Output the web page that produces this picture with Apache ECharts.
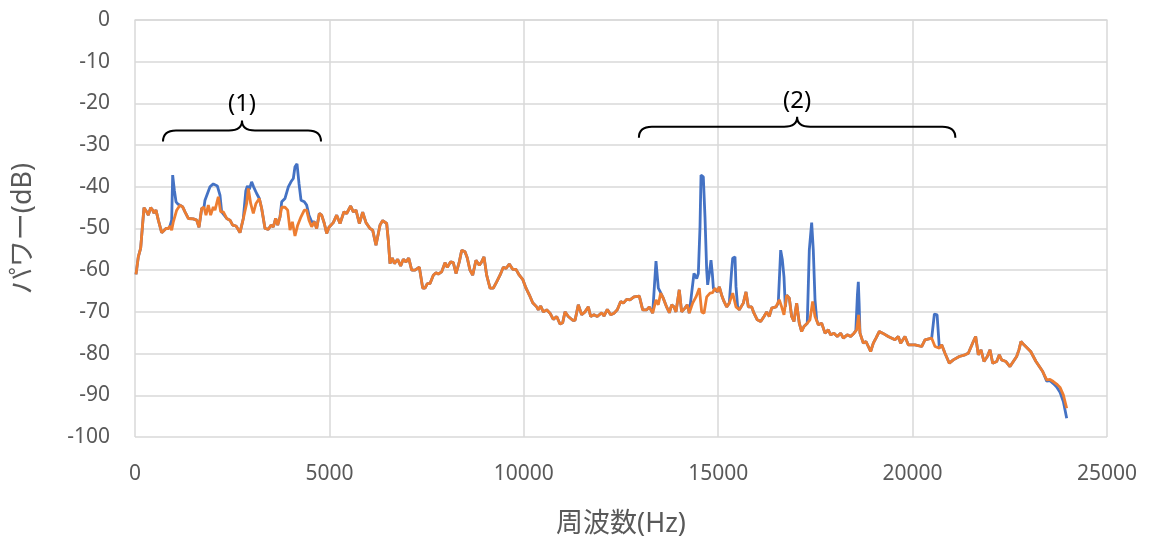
<!DOCTYPE html>
<html>
<head>
<meta charset="utf-8">
<script src="https://cdn.jsdelivr.net/npm/echarts@6/dist/echarts.min.js"></script>
<style>
  html, body { margin: 0; padding: 0; background: #fff; }
  #chart { width: 1151px; height: 543px; }
</style>
</head>
<body>
<div id="chart"></div>
<script>
// ===== data: [Hz, dB] =====
const xTicks = [0, 5000, 10000, 15000, 20000, 25000];
const yTicks = [0, -10, -20, -30, -40, -50, -60, -70, -80, -90, -100];

// orange curve
const orangePoints = [
  [26,-61],[85,-56.8],[146,-54.7],[231,-45],[300,-46],[343,-46.8],[403,-45],[455,-45.6],[489,-46.3],[540,-45.6],
  [600,-48],[686,-51],[728,-51],[797,-50],[857,-50],[900,-49.4],[943,-50.4],[986,-48.4],[1072,-45.6],[1157,-44.4],
  [1226,-44.8],[1286,-46],[1371,-47.6],[1500,-47.7],[1586,-48],[1646,-49.7],[1715,-45.2],[1775,-44.9],[1826,-46.8],[1886,-44.4],
  [1946,-46.8],[2014,-44.8],[2058,-45.6],[2143,-42.4],[2203,-46],[2272,-46],[2358,-47.6],[2443,-48],[2512,-49.2],[2598,-49.4],
  [2632,-49.9],[2700,-51],[2786,-47.6],[2872,-44],[2915,-40.4],[2975,-44],[3043,-46.4],[3112,-44],[3198,-42.8],[3258,-45.2],
  [3344,-50],[3430,-50.2],[3498,-49.2],[3558,-49.6],[3618,-47.6],[3670,-49.2],[3730,-47.2],[3773,-44.9],[3858,-44.9],[3927,-45.6],
  [3987,-50.4],[4047,-48.4],[4115,-51.8],[4184,-49.2],[4270,-47.2],[4355,-45.6],[4415,-45.6],[4475,-48],[4544,-49.6],[4612,-48.4],
  [4672,-50],[4741,-46.4],[4801,-46.8],[4870,-48.8],[4930,-51.2],[4990,-49.7],[5100,-48.6],[5187,-46.8],[5273,-48.8],[5375,-46],
  [5444,-46.4],[5547,-44.6],[5615,-46],[5684,-45.6],[5770,-48.8],[5856,-46.1],[5941,-48.6],[6044,-50],[6113,-50.4],[6198,-54],
  [6301,-49.2],[6370,-48.1],[6473,-48.8],[6515,-52.8],[6558,-58.4],[6618,-57.1],[6670,-58.4],[6756,-57.4],[6833,-59],[6901,-57.4],
  [6970,-58],[7040,-57.1],[7117,-60],[7202,-60],[7313,-59.3],[7400,-64.3],[7459,-64.3],[7518,-63.2],[7588,-63.2],[7673,-61.2],
  [7742,-60.6],[7801,-60.9],[7887,-60.4],[7973,-58.2],[8032,-59.3],[8119,-58],[8187,-58.2],[8256,-60.8],[8341,-58],[8403,-55.2],
  [8488,-55.6],[8547,-57.1],[8616,-60],[8685,-61.2],[8770,-57.6],[8856,-58.8],[8916,-58],[8976,-56.8],[9045,-61.2],[9131,-64.3],
  [9216,-64.3],[9302,-62.8],[9388,-61.2],[9473,-59.3],[9542,-59.6],[9627,-58.5],[9714,-59.8],[9799,-59.8],[9884,-61.2],[9971,-62.2],
  [10057,-64.3],[10141,-65.9],[10229,-67.8],[10332,-68.8],[10373,-69.5],[10434,-68.6],[10502,-70],[10588,-69.5],[10674,-70.3],[10759,-71.8],
  [10846,-71.1],[10931,-72.9],[11000,-72.6],[11060,-70],[11145,-71.1],[11258,-72],[11318,-72],[11402,-68.3],[11488,-70.7],[11574,-70],
  [11660,-68.8],[11720,-71.1],[11805,-70.7],[11890,-71.1],[12003,-70.2],[12062,-71],[12148,-69.4],[12235,-70.7],[12320,-70.3],[12405,-69.5],
  [12492,-67.5],[12560,-67.9],[12646,-67],[12731,-67.1],[12834,-66.4],[12971,-66.2],[13058,-69.5],[13160,-69.5],[13228,-68.8],[13315,-70.3],
  [13400,-67.1],[13460,-68.3],[13520,-65.5],[13587,-66.7],[13673,-68.8],[13743,-70.2],[13803,-68.3],[13863,-68.8],[13914,-70],[13999,-64.7],
  [14059,-70],[14145,-69.1],[14205,-68.3],[14256,-70.3],[14343,-67.9],[14429,-66.4],[14514,-64.3],[14575,-70],[14635,-70.3],[14704,-66.4],
  [14790,-65.5],[14858,-65.4],[14918,-64.3],[14977,-65.2],[15029,-64],[15089,-66],[15149,-67.5],[15218,-68.8],[15285,-67.9],[15373,-65.5],
  [15458,-68.8],[15543,-69.5],[15646,-67.9],[15715,-65.2],[15775,-68.8],[15861,-68.8],[15920,-70.3],[16005,-71.9],[16093,-72.3],[16178,-71.1],
  [16247,-70],[16315,-71.1],[16375,-69.1],[16486,-68.8],[16571,-67.1],[16632,-68.8],[16692,-70.7],[16761,-66],[16829,-66.7],[16889,-71.1],
  [16949,-72.3],[17018,-67.9],[17085,-72.7],[17146,-74.7],[17206,-73.5],[17291,-72.7],[17360,-71.9],[17429,-67.5],[17490,-71.1],[17575,-73.1],
  [17661,-72.7],[17747,-75.1],[17831,-74.3],[17892,-75.5],[17978,-75.1],[18063,-75.9],[18150,-75.1],[18218,-76.3],[18320,-75.5],[18407,-75.9],
  [18493,-75.1],[18561,-74.3],[18612,-70.7],[18647,-75.1],[18732,-77.5],[18801,-77.1],[18861,-78.3],[18921,-79.5],[18990,-77.5],[19058,-76.3],
  [19144,-74.7],[19229,-75.1],[19374,-75.9],[19546,-76.7],[19632,-75.9],[19693,-77.5],[19804,-75.9],[19889,-77.9],[20062,-77.9],[20233,-78.3],
  [20318,-76.7],[20491,-76.3],[20576,-78.3],[20687,-78.7],[20748,-77.9],[20833,-79.9],[20944,-82.3],[21047,-81.5],[21201,-80.7],[21347,-80.3],
  [21433,-79.9],[21562,-77.1],[21622,-75.9],[21690,-80.3],[21759,-79.1],[21836,-81.9],[21922,-80.7],[21991,-79.1],[22060,-82.3],[22163,-81.9],
  [22230,-80.3],[22290,-81.5],[22401,-81.9],[22504,-83.1],[22590,-81.9],[22676,-80.7],[22735,-79.1],[22787,-77.1],[22865,-77.9],[23037,-79.5],
  [23174,-81.9],[23260,-83.1],[23346,-84.3],[23449,-86.3],[23534,-86.2],[23620,-86.7],[23706,-87.3],[23792,-88.1],[23877,-89.9],[23963,-93.1]
];

// blue curve = orange everywhere except these stretches
const blueSegments = [
  [[900,-49.4],[943,-48],[969,-37.2],[1012,-40.8],[1055,-43.6],[1110,-44.2],[1157,-44.4]],
  [[1775,-44.9],[1800,-43.2],[1929,-40],[2014,-39.3],[2117,-39.8],[2186,-42],[2229,-46]],
  [[2786,-47.6],[2850,-41],[2890,-39.8],[2940,-40.6],[3000,-38.8],[3050,-40],[3129,-41.6],[3198,-42.8]],
  [[3730,-47.2],[3773,-43.6],[3858,-42.8],[3944,-40],[4012,-38.8],[4072,-38],[4115,-35.2],[4167,-34.5],[4218,-39.2],
   [4270,-43.2],[4355,-43.6],[4415,-44.4],[4475,-46.8],[4544,-48.4],[4612,-48.4]],
  [[13315,-70.3],[13400,-57.8],[13460,-64.3],[13500,-65],[13587,-66.7]],
  [[14256,-70.3],[14317,-65.5],[14377,-60.8],[14447,-62],[14489,-60.8],[14532,-49.6],[14558,-37.2],[14617,-37.6],[14660,-47.2],
   [14704,-60],[14729,-63.5],[14772,-60.8],[14815,-57.6],[14849,-60.8],[14876,-64.3],[14918,-64.3]],
  [[15285,-67.9],[15346,-60],[15373,-57.1],[15432,-56.8],[15458,-64],[15500,-68.8],[15543,-69.5]],
  [[16486,-68.8],[16545,-67.9],[16607,-55.2],[16650,-57.5],[16692,-61.6],[16726,-68.8],[16761,-66]],
  [[17291,-72.7],[17343,-55.2],[17404,-48.6],[17446,-55.2],[17490,-67.1],[17533,-71.9]],
  [[18540,-74.5],[18580,-66],[18604,-62.8],[18625,-68],[18647,-75.1]],
  [[20491,-76.3],[20533,-75.9],[20560,-70.5],[20630,-70.7],[20687,-78.5]],
  [[23346,-84.3],[23449,-86.6],[23534,-86.5],[23620,-87.2],[23706,-88],[23792,-89.3],[23877,-91.5],[23963,-95.5]]
];

// braces: [fromHz, toHz, dB of the bar]
const braces = [[720, 4784, -26.5], [12960, 21100, -25.6]];
const braceLabels = ['(1)', '(2)'];

// ===== build blue from orange + segments =====
const buildBlue = () => {
  let pts = orangePoints.slice();
  for (const seg of blueSegments) {
    const a = seg[0][0], b = seg[seg.length - 1][0];
    pts = pts.filter(p => p[0] < a || p[0] > b).concat(seg);
  }
  return pts.sort((p, q) => p[0] - q[0]);
};
const bluePoints = buildBlue();

const COLORS = { blue: '#4472C4', orange: '#ED7D31', grid: '#D9D9D9', label: '#595959' };
const FONT = '"Noto Sans", "Noto Sans CJK JP", sans-serif';

const chart = echarts.init(document.getElementById('chart'), null, { renderer: 'canvas' });

const braceItem = (params, api) => {
  const p1 = api.coord([api.value(0), api.value(2)]);
  const p2 = api.coord([api.value(1), api.value(2)]);
  const x1 = p1[0], x2 = p2[0], y = p1[1], xm = (x1 + x2) / 2;
  const r = 13, h = 11, tip = 10;
  const d = `M${x1} ${y + h} Q${x1} ${y} ${x1 + r} ${y} L${xm - r} ${y} Q${xm} ${y} ${xm} ${y - tip}` +
    ` Q${xm} ${y} ${xm + r} ${y} L${x2 - r} ${y} Q${x2} ${y} ${x2} ${y + h}`;
  return {
    type: 'group',
    children: [
      { type: 'path', shape: { pathData: d }, style: { stroke: '#000', fill: null, lineWidth: 2 } },
      {
        type: 'text',
        style: {
          x: xm, y: y - 26, text: braceLabels[params.dataIndex],
          font: `24px ${FONT}`, fill: '#000', align: 'center', verticalAlign: 'middle'
        }
      }
    ]
  };
};

chart.setOption({
  animation: false,
  grid: { left: 135, right: 44, top: 20, bottom: 106 },
  xAxis: {
    type: 'value', min: xTicks[0], max: xTicks[xTicks.length - 1], interval: 5000,
    name: '周波数(Hz)', nameLocation: 'middle', nameGap: 74,
    nameTextStyle: { color: COLORS.label, fontSize: 27, fontFamily: FONT },
    axisLine: { show: true, lineStyle: { color: COLORS.grid, width: 1.5 } },
    axisTick: { show: false },
    axisLabel: { color: COLORS.label, fontSize: 21, fontFamily: FONT, margin: 27, formatter: v => String(v) },
    splitLine: { show: true, lineStyle: { color: COLORS.grid, width: 1.5 } }
  },
  yAxis: {
    type: 'value', min: yTicks[yTicks.length - 1], max: yTicks[0], interval: 10,
    name: 'パワー(dB)', nameLocation: 'middle', nameGap: 98, nameRotate: 90,
    nameTextStyle: { color: COLORS.label, fontSize: 27, fontFamily: FONT },
    axisLine: { show: false },
    axisTick: { show: false },
    axisLabel: { color: COLORS.label, fontSize: 21, fontFamily: FONT, margin: 25, formatter: v => String(v) },
    splitLine: { show: true, lineStyle: { color: COLORS.grid, width: 1.5 } }
  },
  series: [
    {
      type: 'line', data: bluePoints, showSymbol: false, symbol: 'none',
      lineStyle: { color: COLORS.blue, width: 2.8 }, z: 2
    },
    {
      type: 'line', data: orangePoints, showSymbol: false, symbol: 'none',
      lineStyle: { color: COLORS.orange, width: 2.8 }, z: 3
    },
    {
      type: 'custom', data: braces, renderItem: braceItem, clip: false, z: 4,
      encode: { x: [0, 1], y: 2 }, silent: true
    }
  ]
});
</script>
</body>
</html>
